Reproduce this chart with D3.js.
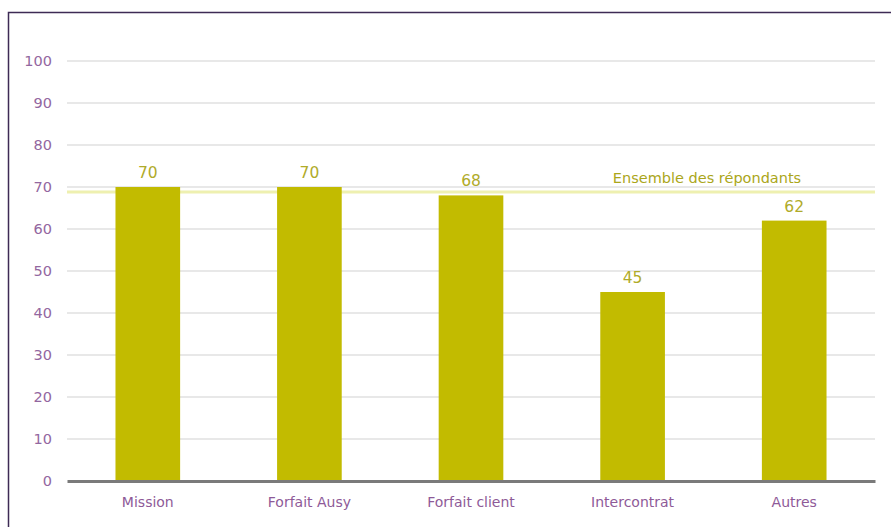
<!DOCTYPE html>
<html>
<head>
<meta charset="utf-8">
<script src="https://cdn.jsdelivr.net/npm/d3@7"></script>
<style>
  body { margin: 0; background: #fff; overflow: hidden; }
  svg { display: block; }
  svg text { font-family: "DejaVu Sans", Verdana, sans-serif; }
</style>
</head>
<body>
<svg id="chart"></svg>
<script>
var categories = ['Mission', 'Forfait Ausy', 'Forfait client', 'Intercontrat', 'Autres'];
var values = [70, 70, 68, 45, 62];
var yTicks = [0, 10, 20, 30, 40, 50, 60, 70, 80, 90, 100];
var refValue = 68.8;
var refLabel = 'Ensemble des répondants';

var width = 891, height = 527;
var margin = {top: 61, bottom: 46, left: 67, right: 16};

var svg = d3.select('#chart')
    .attr('width', width)
    .attr('height', height);

// frame
svg.append('path')
    .attr('d', 'M8.5,' + height + 'V12.5H' + width)
    .attr('fill', 'none')
    .attr('stroke', '#3d2b55')
    .attr('stroke-width', 1.5);

var xScale = d3.scaleBand()
    .domain(categories)
    .range([margin.left, width - margin.right])
    .paddingInner(0.6)
    .paddingOuter(0.3);

var yScale = d3.scaleLinear()
    .domain([0, 100])
    .range([height - margin.bottom, margin.top]);

// gridlines
svg.append('g')
    .selectAll('line')
    .data(yTicks.filter(function(d) { return d > 0; }))
    .enter().append('line')
    .attr('x1', margin.left)
    .attr('x2', width - margin.right)
    .attr('y1', function(d) { return yScale(d); })
    .attr('y2', function(d) { return yScale(d); })
    .attr('stroke', '#e8e8e8')
    .attr('stroke-width', 2);

// y axis labels
var yAxis = svg.append('g')
    .attr('transform', 'translate(' + margin.left + ',0)')
    .call(d3.axisLeft(yScale).tickValues(yTicks).tickSize(0).tickPadding(15));
yAxis.select('.domain').remove();
yAxis.selectAll('text')
    .attr('fill', '#93679f')
    .style('font-size', '14.5px');

// reference line
svg.append('line')
    .attr('x1', margin.left)
    .attr('x2', width - margin.right)
    .attr('y1', yScale(refValue))
    .attr('y2', yScale(refValue))
    .attr('stroke', '#eef0b0')
    .attr('stroke-width', 3);
svg.append('text')
    .attr('x', 707)
    .attr('y', yScale(refValue) - 9)
    .attr('text-anchor', 'middle')
    .attr('fill', '#aba61a')
    .style('font-size', '14.5px')
    .text(refLabel);

// bars
svg.selectAll('.bar')
    .data(values)
    .enter().append('rect')
    .attr('class', 'bar')
    .attr('x', function(d, i) { return xScale(categories[i]); })
    .attr('width', xScale.bandwidth())
    .attr('y', function(d) { return yScale(d); })
    .attr('height', function(d) { return yScale(0) - yScale(d); })
    .attr('fill', '#c2bb00');

// value labels
svg.selectAll('.val')
    .data(values)
    .enter().append('text')
    .attr('class', 'val')
    .attr('x', function(d, i) { return xScale(categories[i]) + xScale.bandwidth() / 2; })
    .attr('y', function(d) { return yScale(d) - 9; })
    .attr('text-anchor', 'middle')
    .attr('fill', '#b0ab2a')
    .style('font-size', '15.5px')
    .text(function(d) { return d; });

// x axis
var xAxis = svg.append('g')
    .attr('transform', 'translate(0,' + yScale(0) + ')')
    .call(d3.axisBottom(xScale).tickSize(0).tickPadding(16));
xAxis.select('.domain')
    .attr('stroke', '#7a7a7a')
    .attr('stroke-width', 3);
xAxis.selectAll('text')
    .attr('fill', '#8e5a98')
    .style('font-size', '14px');
</script>
</body>
</html>
